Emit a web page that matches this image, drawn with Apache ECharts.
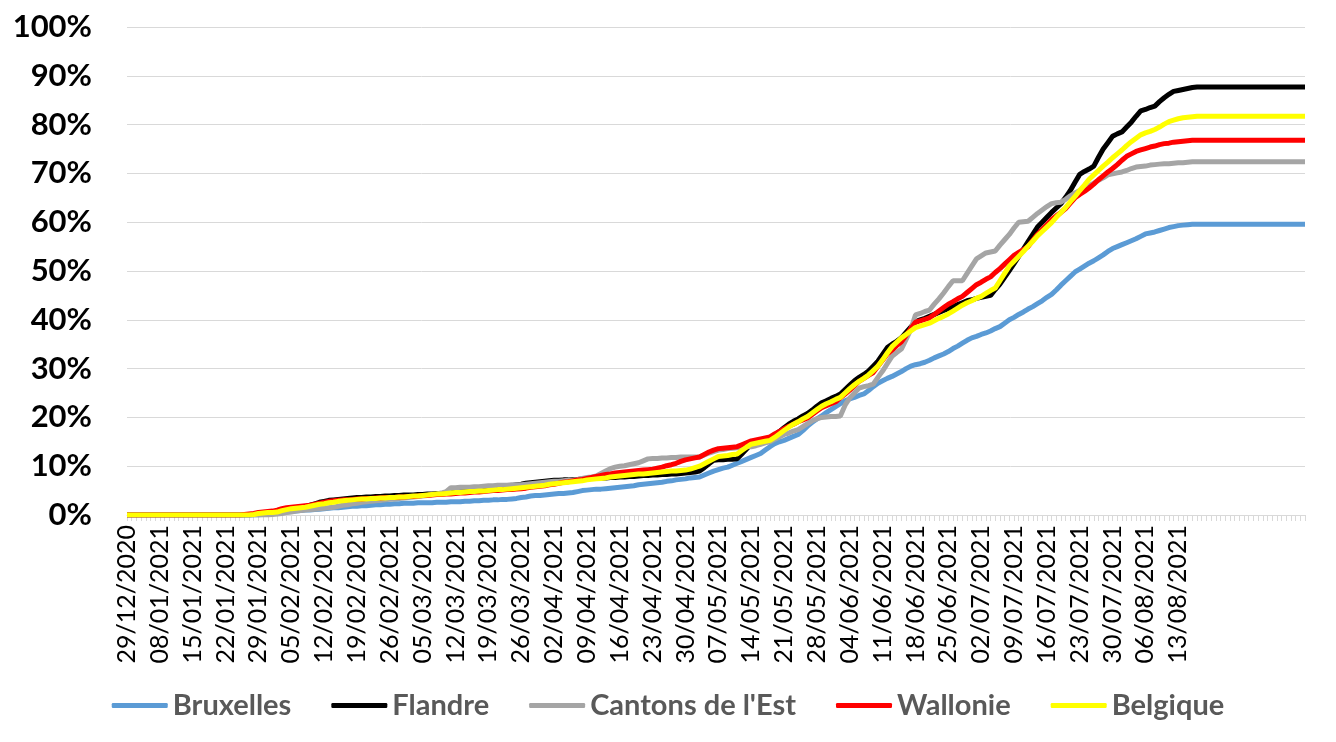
<!DOCTYPE html>
<html>
<head>
<meta charset="utf-8">
<script src="https://cdn.jsdelivr.net/npm/echarts/dist/echarts.min.js"></script>
<style>
html,body{margin:0;padding:0;background:#fff;}
#chart{width:1336px;height:742px;}
</style>
</head>
<body>
<div id="chart"></div>
<script>
// Category dates: first week irregular, then daily
const firstDates = ['29/12/2020','30/12/2020','31/12/2020','04/01/2021','05/01/2021','06/01/2021','07/01/2021'];
const dailyStart = [2021, 0, 8]; // 08/01/2021
const categoryCount = 252;
const lastLabelIndex = 224; // 13/08/2021

const yTicks = [0,10,20,30,40,50,60,70,80,90,100];

const seriesNames = ['Bruxelles','Flandre',"Cantons de l'Est",'Wallonie','Belgique'];

const bruxelles = [
0,0,0,0,0,0,0,0,0,0,
0,0,0,0,0,0,0,0,0,0,
0,0,0,0,0,0,0,0,0,0.1,
0.2,0.3,0.4,0.5,0.6,0.7,0.8,0.9,1.0,1.0,
1.1,1.2,1.3,1.4,1.5,1.5,1.6,1.7,1.8,1.8,
1.9,1.9,2.0,2.1,2.1,2.2,2.2,2.3,2.3,2.4,
2.4,2.4,2.5,2.5,2.5,2.5,2.6,2.6,2.6,2.7,
2.7,2.7,2.8,2.8,2.9,2.9,3.0,3.0,3.1,3.1,
3.2,3.2,3.3,3.4,3.6,3.7,3.9,4.0,4.0,4.1,
4.2,4.3,4.4,4.4,4.5,4.6,4.8,5.0,5.1,5.2,
5.3,5.3,5.4,5.5,5.6,5.7,5.8,5.9,6.0,6.2,
6.3,6.4,6.5,6.6,6.7,6.9,7.0,7.2,7.3,7.4,
7.6,7.7,7.8,8.2,8.6,9.0,9.3,9.6,9.8,10.2,
10.6,11.0,11.4,11.8,12.2,12.6,13.3,14.0,14.6,15.0,
15.3,15.7,16.1,16.5,17.3,18.2,19.0,19.7,20.3,21.0,
21.6,22.2,22.8,23.4,23.8,24.1,24.5,24.8,25.5,26.3,
27.0,27.5,28.0,28.4,28.9,29.4,30.0,30.5,30.8,31.0,
31.3,31.7,32.2,32.6,33.0,33.5,34.1,34.6,35.2,35.8,
36.3,36.6,37.0,37.3,37.7,38.2,38.6,39.3,40.0,40.5,
41.1,41.6,42.2,42.7,43.3,43.9,44.6,45.2,46.1,47.1,
48.0,48.9,49.8,50.4,51.0,51.6,52.1,52.7,53.3,54.0,
54.6,55.0,55.4,55.8,56.2,56.6,57.1,57.6,57.8,58.0,
58.3,58.6,58.9,59.1,59.3,59.4,59.5,59.6,59.6,59.6,
59.6,59.6,59.6,59.6,59.6,59.6,59.6,59.6,59.6,59.6,
59.6,59.6,59.6,59.6,59.6,59.6,59.6,59.6,59.6,59.6,
59.6,59.6
];

const flandre = [
0,0,0,0,0,0,0,0,0,0,
0,0,0,0,0,0,0,0,0,0,
0,0,0,0,0,0,0,0.1,0.2,0.3,
0.4,0.4,0.5,0.7,1.0,1.2,1.4,1.5,1.7,2.0,
2.3,2.6,2.8,3.0,3.1,3.2,3.3,3.4,3.5,3.6,
3.6,3.7,3.7,3.8,3.8,3.9,3.9,4.0,4.0,4.1,
4.1,4.1,4.2,4.2,4.3,4.3,4.4,4.4,4.5,4.5,
4.6,4.7,4.8,4.9,5.0,5.0,5.1,5.2,5.4,5.6,
5.7,5.9,6.0,6.2,6.3,6.5,6.6,6.7,6.8,6.9,
7.0,7.1,7.1,7.2,7.2,7.3,7.3,7.4,7.4,7.5,
7.5,7.6,7.6,7.7,7.7,7.8,7.8,7.9,7.9,8.0,
8.1,8.1,8.2,8.2,8.3,8.3,8.4,8.4,8.5,8.6,
8.7,8.8,9.0,9.7,10.5,11.2,11.3,11.3,11.4,11.4,
11.5,12.5,13.5,14.5,14.8,15.1,15.3,15.6,16.4,17.1,
17.9,18.6,19.2,19.7,20.3,20.8,21.5,22.3,23.0,23.4,
23.9,24.3,24.8,25.7,26.6,27.5,28.2,28.8,29.5,30.5,
31.5,32.9,34.3,35.0,35.6,36.3,37.4,38.5,39.6,40.0,
40.3,40.7,41.1,41.5,41.9,42.3,42.7,43.1,43.5,43.9,
44.1,44.4,44.6,44.8,45.0,46.2,47.3,48.7,50.1,51.5,
53.0,54.5,56.0,57.5,59.0,60.0,61.0,62.0,62.9,63.8,
65.1,66.5,68.2,69.8,70.4,70.9,71.5,73.3,75.0,76.3,
77.6,78.1,78.5,79.5,80.5,81.7,82.8,83.1,83.5,83.8,
84.7,85.5,86.2,86.8,87.0,87.2,87.4,87.6,87.7,87.7,
87.7,87.7,87.7,87.7,87.7,87.7,87.7,87.7,87.7,87.7,
87.7,87.7,87.7,87.7,87.7,87.7,87.7,87.7,87.7,87.7,
87.7,87.7
];

const cantons = [
0,0,0,0,0,0,0,0,0,0,
0,0,0,0,0,0,0,0,0,0,
0,0,0,0,0,0,0,0,0,0,
0,0.1,0.2,0.3,0.5,0.6,0.8,0.9,1.0,1.1,
1.2,1.3,1.4,1.5,1.6,1.8,2.0,2.1,2.3,2.4,
2.6,2.7,2.8,2.9,3.0,3.1,3.2,3.3,3.4,3.5,
3.6,3.7,3.8,3.9,4.0,4.2,4.3,4.5,4.8,5.6,
5.6,5.7,5.7,5.7,5.8,5.8,5.9,6.0,6.0,6.1,
6.1,6.1,6.2,6.2,6.2,6.3,6.4,6.5,6.6,6.7,
6.8,6.9,6.9,7.0,7.1,7.2,7.3,7.5,7.7,7.8,
8.0,8.5,9.0,9.5,9.8,10.0,10.1,10.3,10.5,10.7,
11.1,11.5,11.6,11.6,11.7,11.7,11.8,11.8,11.9,11.9,
11.9,11.9,11.9,12.3,12.7,13.0,13.3,13.4,13.6,13.7,
13.8,13.9,14.0,14.0,14.2,14.5,14.8,15.0,15.5,16.0,
16.5,16.8,17.2,17.5,18.1,18.7,19.3,19.7,20.0,20.1,
20.2,20.2,20.3,22.5,24.0,25.0,26.0,26.3,26.5,26.8,
28.2,29.5,31.0,32.5,33.3,34.0,36.0,38.0,41.0,41.3,
41.7,42.0,43.2,44.3,45.5,46.8,48.0,48.0,48.0,49.5,
51.0,52.5,53.1,53.7,53.9,54.1,55.3,56.4,57.5,58.8,
60.0,60.1,60.2,61.0,61.8,62.5,63.2,63.8,64.0,64.1,
64.7,65.4,66.0,66.5,67.0,67.5,68.0,68.6,69.1,69.7,
69.9,70.1,70.3,70.6,71.0,71.3,71.4,71.5,71.7,71.8,
71.9,72.0,72.0,72.1,72.2,72.2,72.3,72.4,72.4,72.4,
72.4,72.4,72.4,72.4,72.4,72.4,72.4,72.4,72.4,72.4,
72.4,72.4,72.4,72.4,72.4,72.4,72.4,72.4,72.4,72.4,
72.4,72.4
];

const wallonie = [
0,0,0,0,0,0,0,0,0,0,
0,0,0,0,0,0,0,0,0,0,
0,0,0,0,0,0.1,0.2,0.3,0.5,0.6,
0.7,0.8,1.0,1.3,1.5,1.6,1.7,1.8,1.9,2.0,
2.2,2.4,2.6,2.8,2.9,3.0,3.1,3.1,3.2,3.3,
3.3,3.4,3.4,3.5,3.5,3.6,3.6,3.6,3.7,3.7,
3.8,3.8,3.9,4.0,4.0,4.1,4.2,4.2,4.3,4.3,
4.4,4.5,4.5,4.6,4.7,4.7,4.8,4.9,5.0,5.0,
5.1,5.2,5.2,5.3,5.4,5.5,5.7,5.8,5.9,6.0,
6.2,6.3,6.5,6.7,6.8,7.0,7.2,7.3,7.5,7.7,
7.9,8.1,8.3,8.4,8.6,8.7,8.8,8.9,9.0,9.1,
9.2,9.3,9.4,9.6,9.8,10.1,10.3,10.6,11.0,11.3,
11.5,11.7,11.9,12.4,12.9,13.3,13.6,13.7,13.8,13.9,
14.0,14.4,14.8,15.2,15.4,15.6,15.8,16.0,16.6,17.1,
17.7,18.2,18.6,19.1,19.5,19.9,20.6,21.3,22.0,22.4,
22.8,23.2,24.0,24.8,25.6,26.5,27.4,28.0,28.6,29.2,
30.5,31.7,33.0,33.8,34.7,35.5,36.8,38.2,39.5,39.8,
40.1,40.4,41.1,41.8,42.5,43.2,43.7,44.3,44.8,45.6,
46.4,47.2,47.7,48.3,48.8,49.7,50.5,51.4,52.3,53.2,
53.8,54.4,55.0,56.3,57.5,58.5,59.5,60.5,61.3,62.0,
62.8,63.9,65.0,65.7,66.3,67.0,67.8,68.7,69.5,70.3,
71.0,71.8,72.7,73.5,74.0,74.5,74.8,75.1,75.4,75.6,
75.9,76.1,76.2,76.4,76.5,76.6,76.7,76.8,76.8,76.8,
76.8,76.8,76.8,76.8,76.8,76.8,76.8,76.8,76.8,76.8,
76.8,76.8,76.8,76.8,76.8,76.8,76.8,76.8,76.8,76.8,
76.8,76.8
];

const belgique = [
0,0,0,0,0,0,0,0,0,0,
0,0,0,0,0,0,0,0,0,0,
0,0,0,0,0,0,0,0.1,0.3,0.4,
0.5,0.5,0.6,0.9,1.1,1.3,1.4,1.5,1.6,1.8,
2.0,2.2,2.3,2.5,2.6,2.8,2.9,3.0,3.1,3.2,
3.3,3.3,3.4,3.4,3.5,3.5,3.6,3.6,3.7,3.7,
3.8,3.9,3.9,4.0,4.1,4.2,4.3,4.3,4.4,4.5,
4.6,4.6,4.7,4.8,4.8,4.9,4.9,5.0,5.1,5.2,
5.2,5.3,5.4,5.5,5.6,5.7,5.8,5.9,6.0,6.1,
6.3,6.4,6.5,6.6,6.7,6.8,6.9,7.0,7.2,7.3,
7.4,7.5,7.6,7.8,7.9,8.0,8.1,8.2,8.3,8.4,
8.4,8.5,8.6,8.7,8.8,8.9,9.0,9.0,9.1,9.2,
9.4,9.7,10.0,10.5,11.0,11.5,12.0,12.1,12.2,12.4,
12.5,13.2,13.9,14.5,14.7,14.9,15.1,15.3,15.9,16.6,
17.3,18.0,18.6,19.1,19.7,20.2,20.9,21.6,22.3,22.8,
23.2,23.7,24.1,25.0,25.9,26.7,27.4,28.0,28.7,29.6,
30.5,31.8,33.2,34.5,35.4,36.3,37.0,37.7,38.4,38.7,
39.0,39.3,39.8,40.3,40.7,41.2,41.8,42.4,43.0,43.5,
43.9,44.4,44.8,45.4,46.0,46.5,48.0,49.5,51.0,52.0,
53.0,54.0,55.1,56.1,57.2,58.1,59.0,59.9,61.0,62.0,
63.0,64.2,65.3,66.5,67.6,68.8,69.7,70.6,71.5,72.3,
73.2,74.0,74.8,75.7,76.5,77.2,77.9,78.3,78.6,79.0,
79.5,80.1,80.6,80.9,81.2,81.4,81.5,81.6,81.7,81.7,
81.7,81.7,81.7,81.7,81.7,81.7,81.7,81.7,81.7,81.7,
81.7,81.7,81.7,81.7,81.7,81.7,81.7,81.7,81.7,81.7,
81.7,81.7
];

const seriesColors = ['#5B9BD5','#000000','#A5A5A5','#FF0000','#FFFF00'];

// build category list
function pad(n){return (n<10?'0':'')+n;}
const categories = firstDates.slice();
{
  const d = new Date(dailyStart[0], dailyStart[1], dailyStart[2], 12);
  while (categories.length < categoryCount) {
    categories.push(pad(d.getDate())+'/'+pad(d.getMonth()+1)+'/'+d.getFullYear());
    d.setDate(d.getDate()+1);
  }
}

const seriesData = [bruxelles, flandre, cantons, wallonie, belgique];

const chart = echarts.init(document.getElementById('chart'), null, {renderer:'canvas'});
chart.setOption({
  animation: false,
  backgroundColor: '#ffffff',
  grid: {left: 127, right: 31, top: 27, bottom: 227, containLabel: false},
  xAxis: {
    type: 'category',
    data: categories,
    boundaryGap: false,
    axisLine: {show: true, lineStyle: {color: '#d9d9d9', width: 1}},
    axisTick: {show: true, interval: 0, length: 6, lineStyle: {color: '#d9d9d9'}},
    axisLabel: {
      interval: 6,
      rotate: 90,
      margin: 10,
      fontFamily: 'Lato',
      fontSize: 25,
      color: '#000000',
      formatter: function (v, i) { return i <= lastLabelIndex ? v : ''; }
    },
    splitLine: {show: false}
  },
  yAxis: {
    type: 'value',
    min: yTicks[0],
    max: yTicks[yTicks.length-1],
    interval: 10,
    axisLine: {show: false},
    axisTick: {show: false},
    axisLabel: {
      formatter: '{value}%',
      fontFamily: 'Lato',
      fontWeight: 'bold',
      fontSize: 31,
      color: '#000000',
      margin: 35
    },
    splitLine: {show: true, lineStyle: {color: '#d9d9d9', width: 1}}
  },
  legend: {
    data: seriesNames,
    left: 'center',
    top: 686,
    icon: 'roundRect',
    itemWidth: 56,
    itemHeight: 5,
    itemGap: 40,
    textStyle: {fontFamily: 'Lato', fontWeight: 'bold', fontSize: 29, color: '#595959'}
  },
  series: seriesNames.map(function (name, k) {
    return {
      name: name,
      type: 'line',
      data: seriesData[k],
      showSymbol: false,
      symbol: 'none',
      lineStyle: {color: seriesColors[k], width: 5},
      itemStyle: {color: seriesColors[k]},
      smooth: false
    };
  })
});
</script>
</body>
</html>
